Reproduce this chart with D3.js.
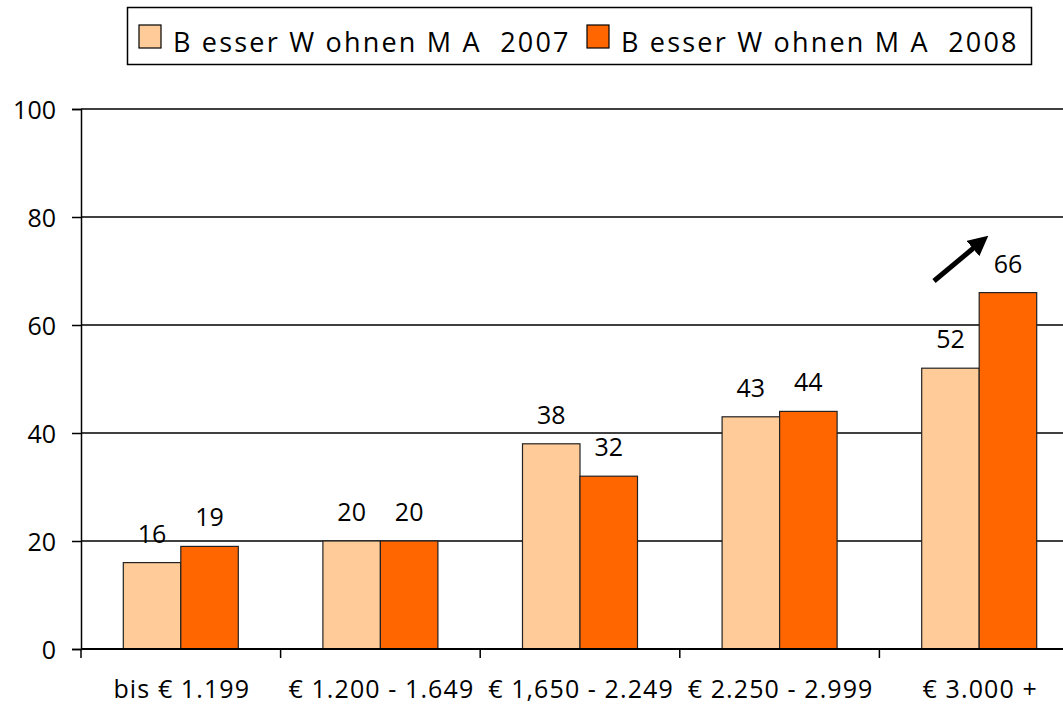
<!DOCTYPE html>
<html>
<head>
<meta charset="utf-8">
<script src="https://cdn.jsdelivr.net/npm/d3@7"></script>
<style>
  body { margin: 0; background: #fff; }
  svg { display: block; font-family: 'Open Sans', sans-serif; }
</style>
</head>
<body>
<svg width="1063" height="704"></svg>
<script>
var categories = ['bis \u20ac 1.199', '\u20ac 1.200 - 1.649', '\u20ac 1,650 - 2.249', '\u20ac 2.250 - 2.999', '\u20ac 3.000 +'];
var seriesNames = ['B esser W ohnen M A  2007', 'B esser W ohnen M A  2008'];
var values2007 = [16, 20, 38, 43, 52];
var values2008 = [19, 20, 32, 44, 66];
var yTicks = [0, 20, 40, 60, 80, 100];
var colors = ['#ffcc99', '#ff6600'];

var svg = d3.select('svg');

var margin = { top: 109, left: 81 };
var plotBottom = 649;
var fontSize = '25px';

var x = d3.scaleBand()
    .domain(categories)
    .range([margin.left, margin.left + 199.6 * categories.length]);

var y = d3.scaleLinear()
    .domain([0, 100])
    .range([plotBottom, margin.top]);

var barW = 57.5;

// grid
svg.append('g').selectAll('line')
    .data(yTicks.filter(function(d) { return d > 0; }))
    .enter().append('line')
    .attr('x1', margin.left).attr('x2', 1063)
    .attr('y1', function(d) { return y(d); })
    .attr('y2', function(d) { return y(d); })
    .attr('stroke', '#000').attr('stroke-width', 1.3);

// bars
var data = [];
categories.forEach(function(c, i) {
    data.push({ cat: c, s: 0, v: values2007[i] });
    data.push({ cat: c, s: 1, v: values2008[i] });
});

var barX = function(d) {
    return x(d.cat) + x.bandwidth() / 2 + (d.s === 0 ? -barW : 0);
};

svg.append('g').selectAll('rect')
    .data(data)
    .enter().append('rect')
    .attr('x', barX)
    .attr('y', function(d) { return y(d.v); })
    .attr('width', barW)
    .attr('height', function(d) { return y(0) - y(d.v); })
    .attr('fill', function(d) { return colors[d.s]; })
    .attr('stroke', '#222').attr('stroke-width', 1.2);

svg.append('g').selectAll('text')
    .data(data)
    .enter().append('text')
    .attr('x', function(d) { return barX(d) + barW / 2; })
    .attr('y', function(d) { return y(d.v) - 20; })
    .attr('text-anchor', 'middle')
    .style('font-size', fontSize)
    .text(function(d) { return d.v; });

// y axis
var yAxis = svg.append('g')
    .attr('transform', 'translate(' + margin.left + ',0)')
    .call(d3.axisLeft(y).tickValues(yTicks).tickSize(9).tickPadding(16));
yAxis.attr('font-family', null).attr('font-size', null);
yAxis.selectAll('text').style('font-size', fontSize).attr('fill', '#000').attr('dy', '0.36em');
yAxis.selectAll('line, path').attr('stroke', '#000').attr('stroke-width', 1.5);

// x axis
var xAxis = svg.append('g')
    .attr('transform', 'translate(0,' + plotBottom + ')');
xAxis.append('line')
    .attr('x1', margin.left).attr('x2', 1063)
    .attr('y1', 0).attr('y2', 0)
    .attr('stroke', '#000').attr('stroke-width', 2);
xAxis.selectAll('.tk')
    .data(categories)
    .enter().append('line')
    .attr('class', 'tk')
    .attr('x1', function(d) { return x(d); })
    .attr('x2', function(d) { return x(d); })
    .attr('y1', 0).attr('y2', 9)
    .attr('stroke', '#000').attr('stroke-width', 1.5);
xAxis.selectAll('text')
    .data(categories)
    .enter().append('text')
    .attr('x', function(d) { return x(d) + x.bandwidth() / 2 + 1; })
    .attr('y', 49)
    .attr('text-anchor', 'middle')
    .style('font-size', fontSize)
    .style('letter-spacing', '1.1px')
    .text(function(d) { return d; });

// arrow
var defs = svg.append('defs');
defs.append('marker')
    .attr('id', 'head')
    .attr('viewBox', '0 0 10 10')
    .attr('refX', 2).attr('refY', 5)
    .attr('markerWidth', 4).attr('markerHeight', 4)
    .attr('orient', 'auto')
    .append('path').attr('d', 'M0,0 L10,5 L0,10 Z').attr('fill', '#000');
svg.append('line')
    .attr('x1', 934).attr('y1', 281)
    .attr('x2', 976).attr('y2', 246)
    .attr('stroke', '#000').attr('stroke-width', 5)
    .attr('marker-end', 'url(#head)');

// legend
var legend = svg.append('g');
legend.append('rect')
    .attr('x', 127.5).attr('y', 7.5)
    .attr('width', 904).attr('height', 57)
    .attr('fill', '#fff').attr('stroke', '#000').attr('stroke-width', 1.5);
var legX = [139, 587];
seriesNames.forEach(function(n, i) {
    legend.append('rect')
        .attr('x', legX[i]).attr('y', 25)
        .attr('width', 22).attr('height', 23)
        .attr('fill', colors[i]).attr('stroke', '#000').attr('stroke-width', 1.2);
    legend.append('text')
        .attr('x', legX[i] + 34).attr('y', 52)
        .style('font-size', '27px')
        .style('letter-spacing', '2.2px')
        .style('white-space', 'pre')
        .text(n);
});
</script>
</body>
</html>
